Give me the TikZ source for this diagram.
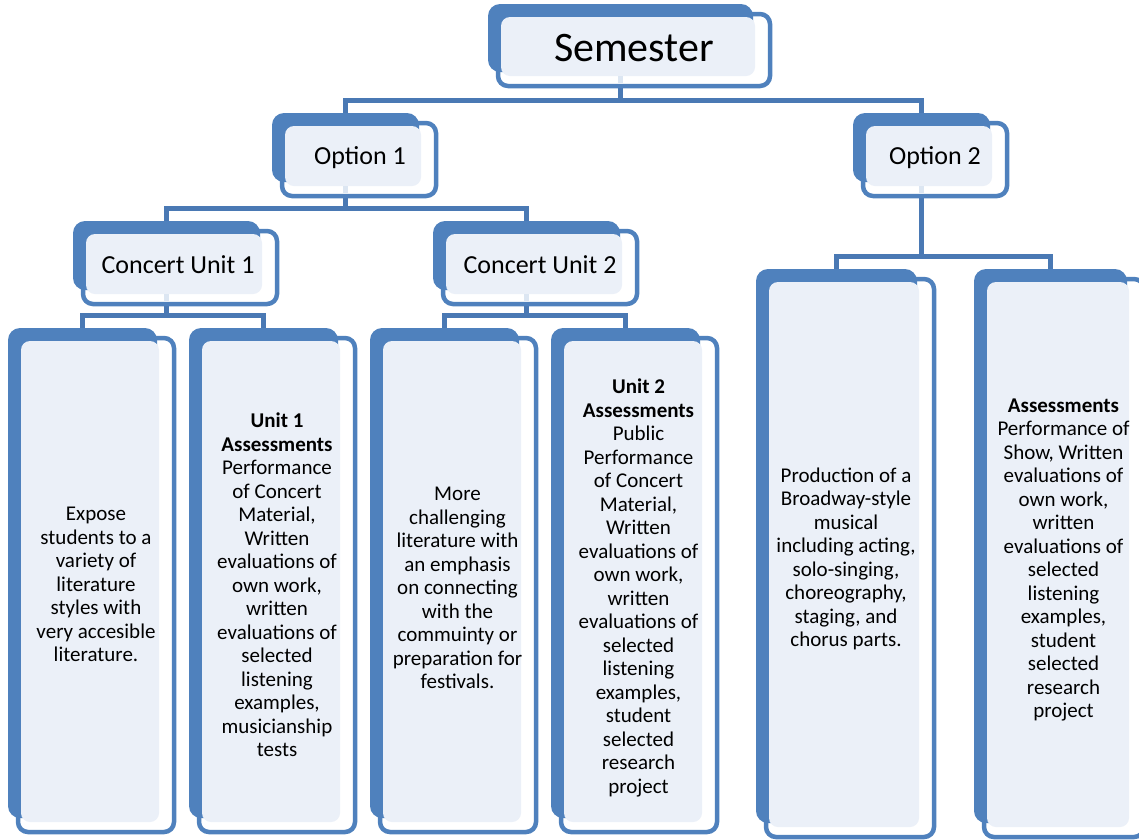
\documentclass[tikz,border=0pt]{standalone}
\usepackage{fontspec}
\setmainfont{Carlito}
\usetikzlibrary{backgrounds}
\definecolor{boxblue}{HTML}{4F81BD}
\definecolor{connblue}{HTML}{4A79B4}
\definecolor{lightfill}{HTML}{EBF0F8}
\definecolor{stubcol}{HTML}{DCE6F2}
\tikzset{
  frontline/.style={draw=boxblue, line width=4.5pt, fill=white, rounded corners=10pt},
  backfill/.style={fill=boxblue, rounded corners=12pt},
  lightarea/.style={fill=lightfill, rounded corners=9pt},
  conn/.style={draw=connblue, line width=5pt},
  stubline/.style={draw=stubcol, line width=5pt},
  bigtext/.style={font=\fontsize{42}{50}\selectfont, inner sep=0pt},
  midtext/.style={font=\fontsize{26}{31}\selectfont, inner sep=0pt},
  leaftext/.style={font=\fontsize{21}{23.5}\selectfont, align=center, inner sep=0pt},
}
\newcommand{\tribox}[5]{%
  \draw[frontline] (#2+10,#3+10) rectangle (#4+17,#5+14);
  \fill[backfill] (#2,#3) rectangle (#4,#5);
  \fill[lightarea] (#2+13,#3+13) rectangle (#4+2,#5+4);
  \node[inner sep=0pt, minimum width={(#4-#2)*1pt}, minimum height={(#5-#3)*1pt}] (#1) at ({(#2+#4)/2},{(#3+#5)/2}) {};
}
\newcommand{\stubat}[1]{\draw[stubline] ([yshift=-4pt]#1.south) -- ([yshift=-11pt]#1.south);}
\begin{document}
\begin{tikzpicture}[x=1pt,y=-1pt]
\useasboundingbox (0,0) rectangle (1139,839);
% boxes
\tribox{sem}{488}{4}{753}{72}
\tribox{opt1}{272}{113}{419}{182}
\tribox{opt2}{853}{113}{990}{182}
\tribox{cu1}{73}{221}{260}{290}
\tribox{cu2}{433}{221}{620}{290}
\tribox{la}{8}{328}{157}{818}
\tribox{lb}{189}{328}{338}{818}
\tribox{lc}{370}{328}{519}{818}
\tribox{ld}{551}{328}{700}{818}
\tribox{le}{756}{269}{917}{823}
\tribox{lf}{974}{269}{1127}{823}
\stubat{sem}
\stubat{opt1}
\stubat{opt2}
\stubat{cu1}
\stubat{cu2}
% connectors
\begin{pgfonlayer}{background}
\draw[conn] (sem.south) -- ++(0,28) coordinate (j1);
\draw[conn] (opt1.north) |- (j1) -| (opt2.north);
\draw[conn] (opt1.south) -- ++(0,26) coordinate (j2);
\draw[conn] (cu1.north) |- (j2) -| (cu2.north);
\draw[conn] (opt2.south) -- ++(0,74) coordinate (j3);
\draw[conn] (le.north) |- (j3) -| (lf.north);
\draw[conn] (cu1.south) -- ++(0,25) coordinate (j4);
\draw[conn] (la.north) |- (j4) -| (lb.north);
\draw[conn] (cu2.south) -- ++(0,25) coordinate (j5);
\draw[conn] (lc.north) |- (j5) -| (ld.north);
\end{pgfonlayer}
% texts
\node[bigtext] (semt) at (634,48) {Semester};
\node[midtext] (opt1t) at (360,158) {Option 1};
\node[midtext] (opt2t) at (935,158) {Option 2};
\node[midtext] (cu1t) at (178,265) {Concert Unit 1};
\node[midtext] (cu2t) at (540,265) {Concert Unit 2};
\node[leaftext] (lat) at (96,584.5) {Expose\\students to a\\variety of\\literature\\styles with\\very accesible\\literature.};
\node[leaftext] (lbt) at (277,585) {\textbf{Unit 1}\\\textbf{Assessments}\\Performance\\of Concert\\Material,\\Written\\evaluations of\\own work,\\written\\evaluations of\\selected\\listening\\examples,\\musicianship\\tests};
\node[leaftext] (lct) at (457.5,588) {More\\challenging\\literature with\\an emphasis\\on connecting\\with the\\commuinty or\\preparation for\\festivals.};
\node[leaftext] (ldt) at (638.5,588) {\textbf{Unit 2}\\\textbf{Assessments}\\Public\\Performance\\of Concert\\Material,\\Written\\evaluations of\\own work,\\written\\evaluations of\\selected\\listening\\examples,\\student\\selected\\research\\project};
\node[leaftext] (let) at (846,559) {Production of a\\Broadway-style\\musical\\including acting,\\solo-singing,\\choreography,\\staging, and\\chorus parts.};
\node[leaftext] (lft) at (1063.5,560) {\textbf{Assessments}\\Performance of\\Show, Written\\evaluations of\\own work,\\written\\evaluations of\\selected\\listening\\examples,\\student\\selected\\research\\project};
\end{tikzpicture}
\end{document}
